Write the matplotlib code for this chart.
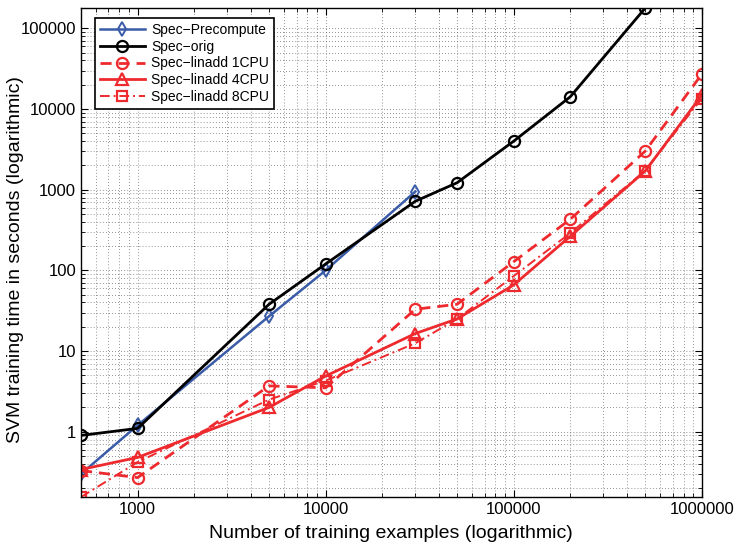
import matplotlib.pyplot as plt
import numpy as np

plt.rcParams['font.family'] = ['Liberation Sans', 'DejaVu Sans']

# training set sizes
n_pre = [500, 1000, 5000, 10000, 30000]
n_all = [500, 1000, 5000, 10000, 30000, 50000, 100000, 200000, 500000]
n_lin = [500, 1000, 5000, 10000, 30000, 50000, 100000, 200000, 500000, 1000000]

# training times in seconds
t_precompute = [0.3, 1.2, 27, 100, 950]
t_orig = [0.9, 1.1, 38, 120, 720, 1220, 4000, 14200, 178000]
t_lin1 = [0.33, 0.27, 3.7, 3.5, 33, 38, 128, 430, 3000, 27000]
t_lin4 = [0.34, 0.48, 2.0, 4.9, 16.5, 25, 66, 265, 1700, 14800]
t_lin8 = [0.155, 0.42, 2.5, 4.3, 12.5, 25, 85, 290, 1720, 13500]

blue = '#3a5ca8'
red = '#ee2a2e'

fig = plt.figure(figsize=(7.41, 5.45), dpi=100)
ax = fig.add_axes([0.1093, 0.088, 0.8377, 0.897])

ax.loglog(n_pre, t_precompute, '-', color=blue, marker='d', mfc='none',
          mec=blue, ms=7, mew=1.4, lw=1.8, label='Spec\u2212Precompute')
ax.loglog(n_all, t_orig, '-', color='black', marker='o', mfc='none',
          mec='black', ms=8, mew=1.6, lw=2.0, label='Spec\u2212orig')
ax.loglog(n_lin, t_lin1, color=red, ls=(0, (4, 2.5)), marker='o', mfc='none',
          mec=red, ms=8, mew=1.6, lw=2.0, label='Spec\u2212linadd 1CPU')
ax.loglog(n_lin, t_lin4, '-', color=red, marker='^', mfc='none',
          mec=red, ms=8, mew=1.6, lw=2.0, label='Spec\u2212linadd 4CPU')
ax.loglog(n_lin, t_lin8, color=red, ls=(0, (5, 2, 1, 2)), marker='s',
          mfc='none', mec=red, ms=7, mew=1.6, lw=1.4,
          label='Spec\u2212linadd 8CPU')

ax.set_xlim(500, 1000000)
ax.set_ylim(0.155, 178000)

ax.set_xticks([1000, 10000, 100000, 1000000])
ax.set_xticklabels(['1000', '10000', '100000', '1000000'])
ax.set_yticks([1, 10, 100, 1000, 10000, 100000])
ax.set_yticklabels(['1', '10', '100', '1000', '10000', '100000'])

ax.grid(True, which='both', linestyle=(0, (1, 3)), color='#555555', lw=0.55)
ax.tick_params(which='both', direction='in', top=True, right=True, labelsize=12)
ax.tick_params(which='major', length=5, width=0.8)
ax.tick_params(which='minor', length=3, width=0.6)
for s in ax.spines.values():
    s.set_linewidth(1.0)

ax.set_xlabel('Number of training examples (logarithmic)', fontsize=14,
              labelpad=6)
ax.set_ylabel('SVM training time in seconds (logarithmic)', fontsize=14)
ax.yaxis.set_label_coords(-0.092, 0.485)

leg = ax.legend(loc='upper left', fontsize=10, fancybox=False, framealpha=1,
                edgecolor='black', handlelength=3.3, handletextpad=0.4,
                borderpad=0.35, labelspacing=0.2, borderaxespad=0,
                bbox_to_anchor=(0.022, 0.98))
leg.get_frame().set_linewidth(1.2)

fig.savefig('out.png', dpi=100)
